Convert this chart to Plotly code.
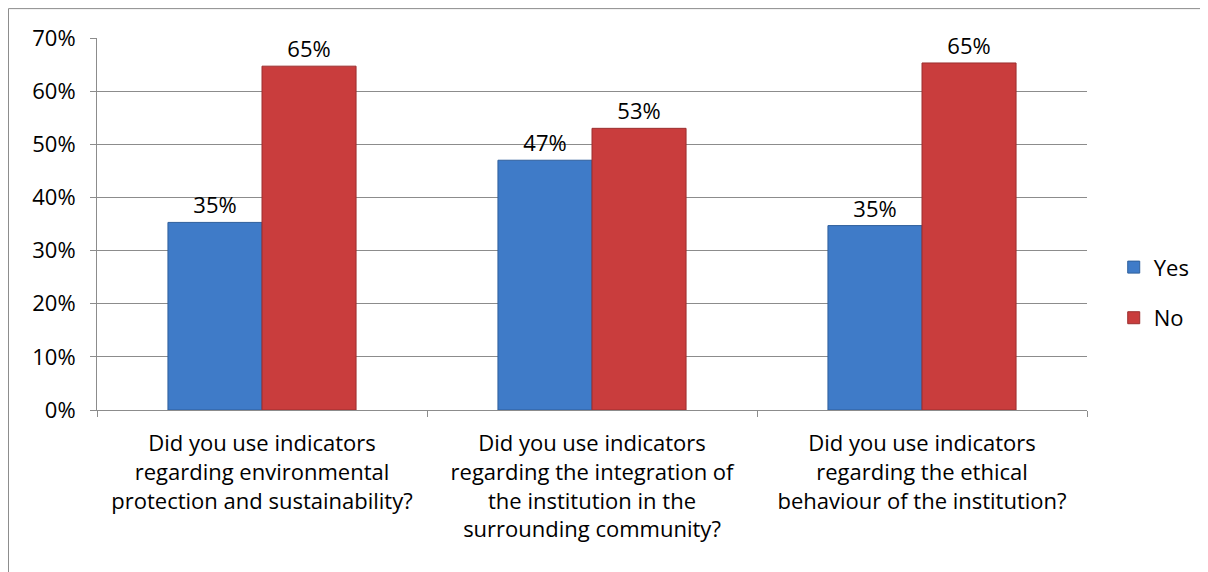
import plotly.graph_objects as go

categories = [
    "Did you use indicators<br>regarding environmental<br>protection and sustainability?",
    "Did you use indicators<br>regarding the integration of<br>the institution in the<br>surrounding community?",
    "Did you use indicators<br>regarding the ethical<br>behaviour of the institution?",
]
yes_values = [35.3, 47.0, 34.7]
no_values = [64.7, 53.0, 65.3]
yes_labels = ["35%", "47%", "35%"]
no_labels = ["65%", "53%", "65%"]
y_ticks = [0, 10, 20, 30, 40, 50, 60, 70]
y_tick_labels = ["0%", "10%", "20%", "30%", "40%", "50%", "60%", "70%"]

FONT = "Open Sans"
FS = 22

fig = go.Figure()
fig.add_trace(go.Bar(
    name="Yes", x=categories, y=yes_values, text=yes_labels,
    textposition="outside", cliponaxis=False,
    textfont=dict(size=FS, color="#000000", family=FONT),
    marker=dict(color="#3f7bc8", line=dict(color="#2f5f9c", width=1)),
    legendgroup="yes",
))
fig.add_trace(go.Bar(
    name="No", x=categories, y=no_values, text=no_labels,
    textposition="outside", cliponaxis=False,
    textfont=dict(size=FS, color="#000000", family=FONT),
    marker=dict(color="#c93d3d", line=dict(color="#9c2f2f", width=1)),
    legendgroup="no",
))

fig.update_layout(
    width=1208, height=572,
    margin=dict(l=89, r=129, t=30, b=170),
    paper_bgcolor="white", plot_bgcolor="white",
    barmode="group", bargap=0.43, bargroupgap=0,
    font=dict(family=FONT, size=FS, color="#000000"),
    showlegend=True,
    legend=dict(x=1.027, y=0.315, xanchor="left", yanchor="middle",
                traceorder="grouped", tracegroupgap=19,
                font=dict(size=FS, family=FONT), itemwidth=30,
                bgcolor="rgba(0,0,0,0)"),
)
fig.update_yaxes(
    range=[0, 70], tickvals=y_ticks, ticktext=y_tick_labels,
    showgrid=True, gridcolor="#8c8c8c", gridwidth=1,
    showline=True, linecolor="#8c8c8c", linewidth=1,
    ticks="outside", ticklen=6, tickcolor="#8c8c8c",
    tickfont=dict(size=FS, family=FONT), zeroline=False,
    ticklabelstandoff=10,
)
fig.update_xaxes(
    showline=True, linecolor="#8c8c8c", linewidth=1,
    ticks="outside", ticklen=6, tickcolor="#8c8c8c",
    tickson="boundaries", tickangle=0,
    tickfont=dict(size=FS, family=FONT),
    ticklabelstandoff=14,
)
fig.add_shape(type="rect", xref="paper", yref="paper",
              x0=-0.0894, x1=1.3, y0=-0.6, y1=1.079,
              line=dict(color="#8c8c8c", width=1), layer="below")

fig.write_html("out.html")
